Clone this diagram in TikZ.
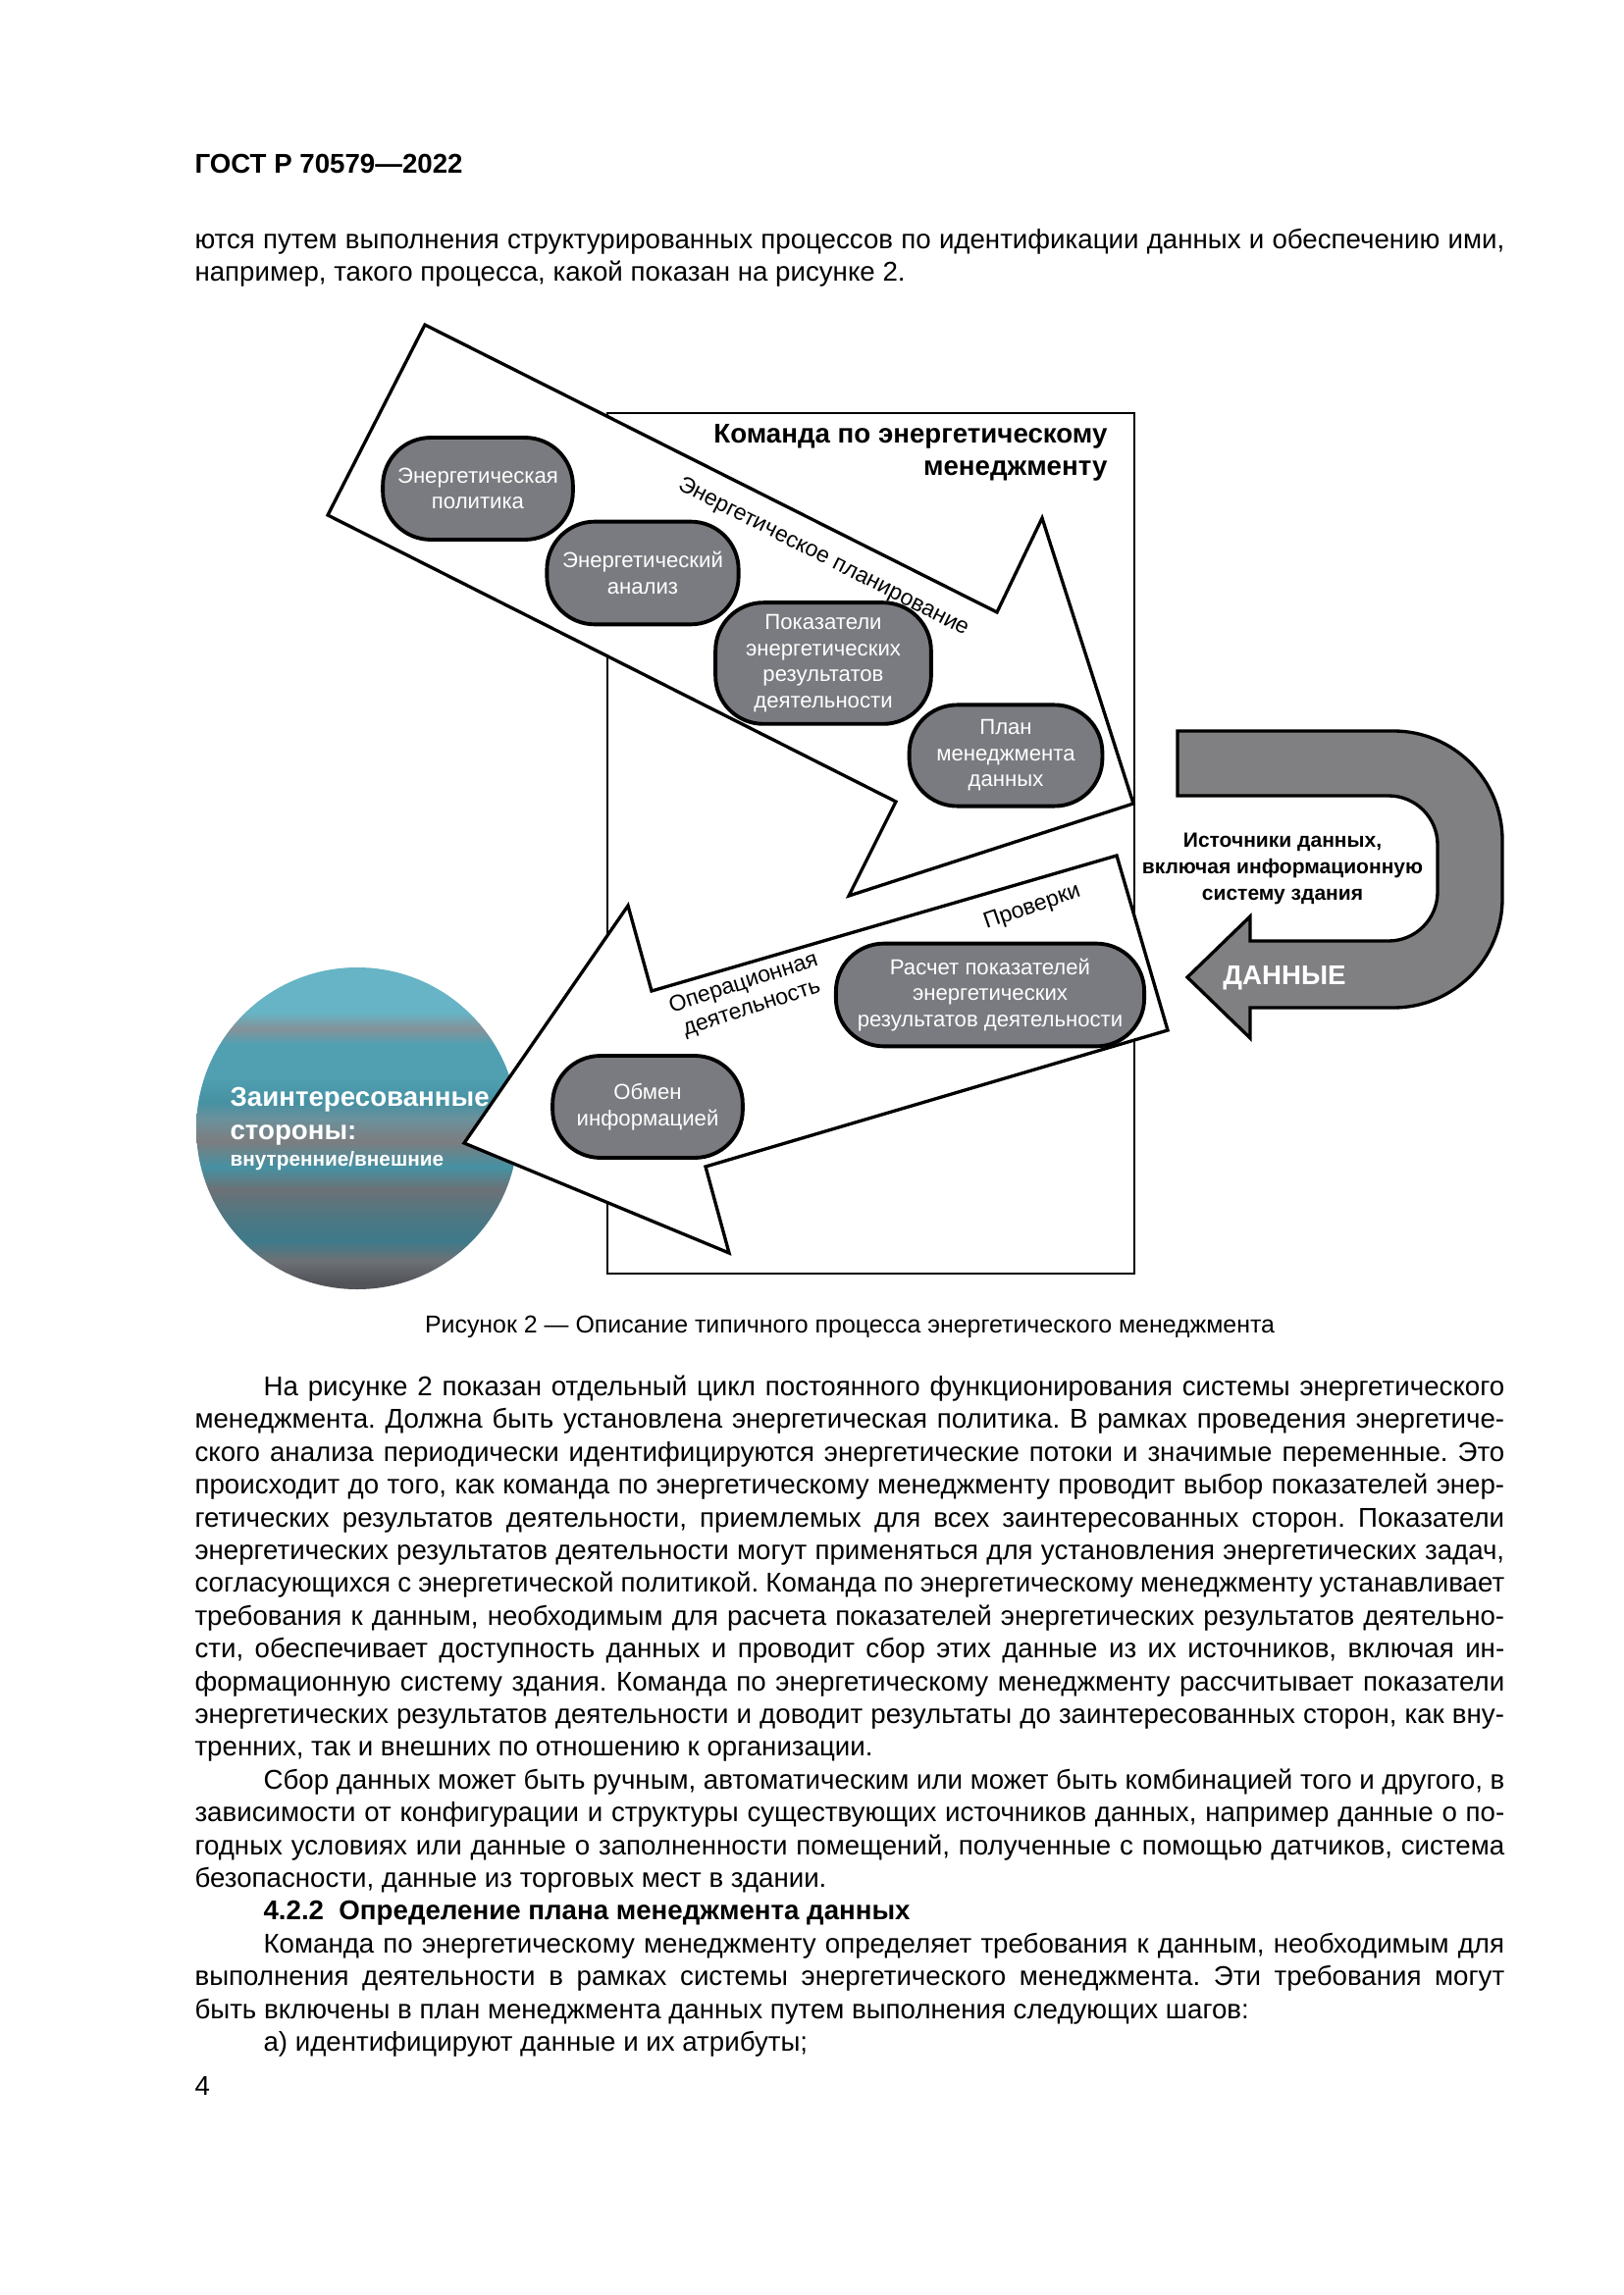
\documentclass[tikz,border=0pt]{standalone}
\usepackage{fontspec}
\setmainfont{Liberation Sans}

\definecolor{pillgray}{RGB}{122,123,128}
\definecolor{datagray}{RGB}{128,128,131}
\definecolor{tealtop}{RGB}{102,180,197}
\definecolor{tealmid}{RGB}{80,160,178}
\definecolor{tealdeep}{RGB}{70,145,162}
\definecolor{tealdark}{RGB}{62,122,137}
\definecolor{bandgray}{RGB}{132,146,152}
\definecolor{midgray}{RGB}{124,125,128}
\definecolor{lowgray}{RGB}{108,113,118}
\definecolor{basegray}{RGB}{82,83,88}
\pgfdeclareverticalshading{partyshade}{100bp}{
  color(0bp)=(basegray);
  color(26bp)=(basegray);
  color(29.5bp)=(lowgray);
  color(32.5bp)=(tealdark);
  color(36bp)=(tealdark!70!lowgray);
  color(40.5bp)=(lowgray);
  color(44bp)=(tealdeep);
  color(48bp)=(midgray);
  color(51.5bp)=(bandgray!60!tealdeep);
  color(54bp)=(tealdeep);
  color(58bp)=(tealmid);
  color(63bp)=(tealmid);
  color(65.5bp)=(bandgray);
  color(68bp)=(tealtop);
  color(75bp)=(tealtop);
  color(100bp)=(tealtop)}

\newcommand{\jfull}[1]{\hbox to 169.5mm{\frenchspacing\spaceskip=.27em plus .6em minus .1em #1}}
\newcommand{\jind}[1]{\hbox to 160.6mm{\frenchspacing\spaceskip=.27em plus .6em minus .1em #1}}

\begin{document}
\begin{tikzpicture}[x=0.127mm, y=-0.127mm,
        pill/.style = {rectangle, rounded corners=6.2mm, draw, line width=1.4pt, fill=pillgray,
                text=white, align=center, font=\fontsize{8}{9.6}\selectfont, inner sep=1pt},
        bigarrow/.style = {draw, line width=1.2pt, fill=white, line join=miter},
        slanted/.style = {font=\fontsize{8.3}{9.6}\selectfont, align=center, inner sep=0pt},
        bodyline/.style = {anchor=base west, inner sep=0pt, font=\fontsize{10}{12}\selectfont},
        whitebold/.style = {anchor=base west, inner sep=0pt, text=white}
        ]
        \useasboundingbox[fill=white] (0,0) rectangle (1654,2339);

        % page head and text above the figure
        \node[bodyline, font=\fontsize{10}{12}\selectfont\bfseries] (head) at (198,177) {ГОСТ Р 70579—2022};
        \node[bodyline] (top1) at (198,254) {\jfull{ются путем выполнения структурированных процессов по идентификации данных и обеспечению ими,}};
        \node[bodyline] (top2) at (198,287) {например, такого процесса, какой показан на рисунке 2.};

        % figure
        \draw[line width=1pt] (619,421) rectangle (1156,1298);
        \node[anchor=base east, align=right, inner sep=0pt, font=\fontsize{10}{12}\selectfont\bfseries] (team) at (1129,485)
                {Команда по энергетическому\\менеджменту};

        \shade[shading=partyshade] (364,1150) circle (164);
        \node[whitebold, font=\fontsize{10}{12}\selectfont\bfseries] (partyA) at (234,1127) {Заинтересованные};
        \node[whitebold, font=\fontsize{10}{12}\selectfont\bfseries] (partyB) at (234,1161) {стороны:};
        \node[whitebold, font=\fontsize{7.5}{9}\selectfont\bfseries] (partyC) at (234,1188) {внутренние/внешние};

        \draw[bigarrow] (433,331) -- (1016,624) -- (1062,528) -- (1155,819) -- (865,913) -- (913,817) -- (334,525) -- cycle;
        \draw[bigarrow] (473,1165) -- (640,923) -- (664,1010) -- (1138,872) -- (1190,1050) -- (719,1189) -- (743,1277) -- cycle;

        \node[slanted, rotate=-27] (planning) at (839,568) {Энергетическое планирование};
        \node[slanted, rotate=19] (checks) at (1052,925) {Проверки};
        \node[slanted, rotate=18] (operation) at (762,1015) {Операционная\\деятельность};

        \draw[line width=1.2pt, fill=datagray, line join=miter]
                (1200,745) -- (1420,745) arc (-90:0:111) -- (1531,916) arc (0:90:111) -- (1274,1027)
                -- (1274,1058) -- (1210,996) -- (1274,934) -- (1274,959) -- (1415,959) arc (90:0:50)
                -- (1465,861) arc (0:-90:50) -- (1200,811) -- cycle;
        \node[anchor=base, inner sep=0pt, text=white, font=\fontsize{10}{12}\selectfont\bfseries] (data) at (1309,1003) {ДАННЫЕ};
        \node[anchor=base, align=center, inner sep=0pt, font=\fontsize{7.6}{9.7}\selectfont\bfseries] (sources) at (1307,917)
                {Источники данных,\\включая информационную\\систему здания};

        \node[pill, minimum width=24.6mm, minimum height=13.2mm] (policy) at (487,498) {Энергетическая\\политика};
        \node[pill, minimum width=24.8mm, minimum height=13.3mm] (review) at (655,584) {Энергетический\\анализ};
        \node[pill, minimum width=27.9mm, minimum height=15.7mm] (enpi) at (839,676) {Показатели\\энергетических\\результатов\\деятельности};
        \node[pill, minimum width=25mm, minimum height=13.1mm] (dataplan) at (1025,770) {План\\менеджмента\\данных};
        \node[pill, minimum width=39.9mm, minimum height=13.3mm] (calc) at (1009,1014) {Расчет показателей\\энергетических\\результатов деятельности};
        \node[pill, minimum width=24.6mm, minimum height=13.2mm] (exchange) at (660,1128) {Обмен\\информацией};

        \node[anchor=base, inner sep=0pt, font=\fontsize{9}{11}\selectfont] (caption) at (866,1358)
                {Рисунок 2 — Описание типичного процесса энергетического менеджмента};

        % text below the figure
        \node[bodyline] (p1) at (268,1422) {\jind{На рисунке 2 показан отдельный цикл постоянного функционирования системы энергетического}};
        \node[bodyline] (p2) at (198,1455) {\jfull{менеджмента. Должна быть установлена энергетическая политика. В рамках проведения энергетиче-}};
        \node[bodyline] (p3) at (198,1489) {\jfull{ского анализа периодически идентифицируются энергетические потоки и значимые переменные. Это}};
        \node[bodyline] (p4) at (198,1522) {\jfull{происходит до того, как команда по энергетическому менеджменту проводит выбор показателей энер-}};
        \node[bodyline] (p5) at (198,1556) {\jfull{гетических результатов деятельности, приемлемых для всех заинтересованных сторон. Показатели}};
        \node[bodyline] (p6) at (198,1589) {\jfull{энергетических результатов деятельности могут применяться для установления энергетических задач,}};
        \node[bodyline] (p7) at (198,1622) {\jfull{согласующихся с энергетической политикой. Команда по энергетическому менеджменту устанавливает}};
        \node[bodyline] (p8) at (198,1656) {\jfull{требования к данным, необходимым для расчета показателей энергетических результатов деятельно-}};
        \node[bodyline] (p9) at (198,1689) {\jfull{сти, обеспечивает доступность данных и проводит сбор этих данные из их источников, включая ин-}};
        \node[bodyline] (p10) at (198,1723) {\jfull{формационную систему здания. Команда по энергетическому менеджменту рассчитывает показатели}};
        \node[bodyline] (p11) at (198,1756) {\jfull{энергетических результатов деятельности и доводит результаты до заинтересованных сторон, как вну-}};
        \node[bodyline] (p12) at (198,1789) {тренних, так и внешних по отношению к организации.};
        \node[bodyline] (q1) at (268,1823) {\jind{Сбор данных может быть ручным, автоматическим или может быть комбинацией того и другого, в}};
        \node[bodyline] (q2) at (198,1856) {\jfull{зависимости от конфигурации и структуры существующих источников данных, например данные о по-}};
        \node[bodyline] (q3) at (198,1890) {\jfull{годных условиях или данные о заполненности помещений, полученные с помощью датчиков, система}};
        \node[bodyline] (q4) at (198,1923) {безопасности, данные из торговых мест в здании.};
        \node[bodyline, font=\fontsize{10}{12}\selectfont\bfseries] (sec) at (268,1956) {4.2.2\ \ Определение плана менеджмента данных};
        \node[bodyline] (r1) at (268,1990) {\jind{Команда по энергетическому менеджменту определяет требования к данным, необходимым для}};
        \node[bodyline] (r2) at (198,2023) {\jfull{выполнения деятельности в рамках системы энергетического менеджмента. Эти требования могут}};
        \node[bodyline] (r3) at (198,2057) {быть включены в план менеджмента данных путем выполнения следующих шагов:};
        \node[bodyline] (r4) at (268,2090) {а) идентифицируют данные и их атрибуты;};
        \node[bodyline] (pageno) at (198,2135) {4};
\end{tikzpicture}
\end{document}
